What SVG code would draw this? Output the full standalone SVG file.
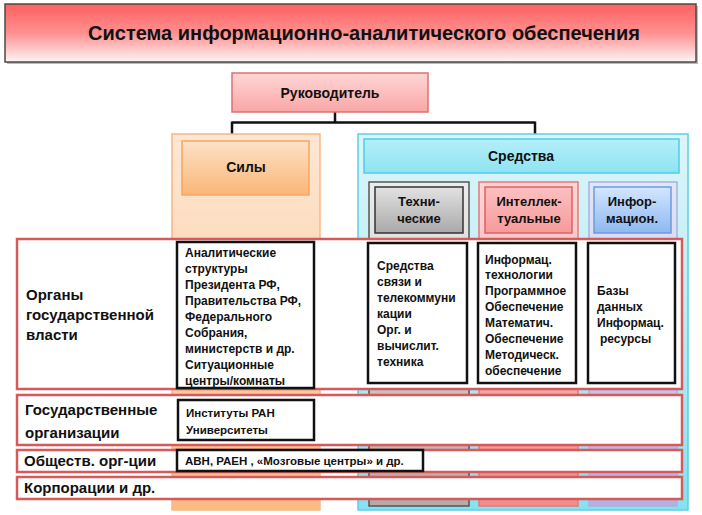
<svg xmlns="http://www.w3.org/2000/svg" width="702" height="515" viewBox="0 0 702 515">
<defs>
<linearGradient id="gTitle" x1="0" y1="0" x2="0" y2="1"><stop offset="0" stop-color="#ff6060"/><stop offset="0.5" stop-color="#ff9090"/><stop offset="1" stop-color="#fff4f4"/></linearGradient>
<linearGradient id="gBoss" x1="0" y1="0" x2="0" y2="1"><stop offset="0" stop-color="#ffd6d6"/><stop offset="1" stop-color="#f9a6a6"/></linearGradient>
<linearGradient id="gSilyCol" x1="0" y1="0" x2="0" y2="1"><stop offset="0" stop-color="#fde7d4"/><stop offset="0.5" stop-color="#fcd4ae"/><stop offset="1" stop-color="#fbbb82"/></linearGradient>
<linearGradient id="gSily" x1="0" y1="0" x2="0" y2="1"><stop offset="0" stop-color="#fde2c8"/><stop offset="1" stop-color="#f9b677"/></linearGradient>
<linearGradient id="gSredCol" x1="0" y1="0" x2="0" y2="1"><stop offset="0" stop-color="#dcf5fa"/><stop offset="0.5" stop-color="#b8edf6"/><stop offset="1" stop-color="#86e1f1"/></linearGradient>
<linearGradient id="gSred" x1="0" y1="0" x2="0" y2="1"><stop offset="0" stop-color="#b4eff9"/><stop offset="1" stop-color="#8fe3f3"/></linearGradient>
<linearGradient id="gTechCol" x1="0" y1="0" x2="0" y2="1"><stop offset="0" stop-color="#ececec"/><stop offset="1" stop-color="#b8a9a9"/></linearGradient>
<linearGradient id="gTech" x1="0" y1="0" x2="0" y2="1"><stop offset="0" stop-color="#e2e2e2"/><stop offset="1" stop-color="#a9a9a9"/></linearGradient>
<linearGradient id="gIntCol" x1="0" y1="0" x2="0" y2="1"><stop offset="0" stop-color="#fcd6d6"/><stop offset="1" stop-color="#f28c8c"/></linearGradient>
<linearGradient id="gInt" x1="0" y1="0" x2="0" y2="1"><stop offset="0" stop-color="#fcc0c0"/><stop offset="1" stop-color="#f79a9a"/></linearGradient>
<linearGradient id="gInfCol" x1="0" y1="0" x2="0" y2="1"><stop offset="0" stop-color="#e2e6f7"/><stop offset="1" stop-color="#b8aee0"/></linearGradient>
<linearGradient id="gInf" x1="0" y1="0" x2="0" y2="1"><stop offset="0" stop-color="#d4e6ff"/><stop offset="1" stop-color="#8db8f0"/></linearGradient>
</defs>
<style>
text{font-family:"Liberation Sans",Arial,sans-serif;font-weight:bold;fill:#111}
.title{font-size:20px}
.h{font-size:14px}
.hs{font-size:13px}
.lbl{font-size:15px}
.bt{font-size:12px}
.bs{font-size:11.5px}
.row{fill:#fff;stroke:#d65a5a;stroke-width:2.5}
.tb{fill:#fff;stroke:#111;stroke-width:2.5}
.conn{fill:none;stroke:#111;stroke-width:2.5}
</style>
<rect width="702" height="515" fill="#fff"/>

<g id="title">
<rect x="7" y="6" width="691" height="58" fill="#bbb"/>
<rect x="5" y="4" width="691" height="58" fill="url(#gTitle)" stroke="#4a4a4a" stroke-width="1.5"/>
<text class="title" x="364" y="40" text-anchor="middle">Система информационно-аналитического обеспечения</text>
</g>

<g id="connectors">
<path class="conn" d="M335 112 V122.5 M232 122.5 H535 M232 121.5 V134 M535 121.5 V137"/>
</g>

<g id="rukovoditel">
<rect x="232" y="73" width="196" height="39" fill="url(#gBoss)" stroke="#e07070" stroke-width="1.5"/>
<text class="h" x="330" y="98" text-anchor="middle">Руководитель</text>
</g>

<g id="sily-col">
<rect x="172" y="134" width="148" height="376" fill="url(#gSilyCol)" stroke="#f8b886" stroke-width="1.5"/>
</g>
<g id="sily">
<rect x="182" y="141" width="127" height="54" fill="url(#gSily)" stroke="#f5a660" stroke-width="1.5"/>
<text class="h" x="246" y="172" text-anchor="middle">Силы</text>
</g>

<g id="sredstva-col">
<rect x="358" y="134" width="330" height="376" fill="url(#gSredCol)" stroke="#5ccfe5" stroke-width="1.5"/>
</g>
<g id="sredstva">
<rect x="364" y="139" width="315" height="34" fill="url(#gSred)" stroke="#4fcde5" stroke-width="1.5"/>
<text class="h" x="521" y="161" text-anchor="middle">Средства</text>
</g>

<g id="tech-col"><rect x="369" y="182" width="100" height="324" fill="url(#gTechCol)" stroke="#555" stroke-width="1.5"/></g>
<g id="int-col"><rect x="479" y="182" width="99" height="324" fill="url(#gIntCol)" stroke="#e47a7a" stroke-width="1.5"/></g>
<g id="inf-col"><rect x="589" y="182" width="88" height="324" fill="url(#gInfCol)" stroke="#a9b2da" stroke-width="1.5"/></g>

<g id="tech">
<rect x="375" y="187" width="88" height="46" fill="url(#gTech)" stroke="#333" stroke-width="1.5"/>
<text class="hs" x="419" y="206" text-anchor="middle">Техни-</text>
<text class="hs" x="419" y="223" text-anchor="middle">ческие</text>
</g>
<g id="intellect">
<rect x="485" y="187" width="87" height="46" fill="url(#gInt)" stroke="#e06060" stroke-width="1.5"/>
<text class="hs" x="529" y="206" text-anchor="middle">Интеллек-</text>
<text class="hs" x="529" y="223" text-anchor="middle">туальные</text>
</g>
<g id="inform">
<rect x="594" y="187" width="77" height="46" fill="url(#gInf)" stroke="#6c9ade" stroke-width="1.5"/>
<text class="hs" x="632" y="206" text-anchor="middle">Инфор-</text>
<text class="hs" x="632" y="223" text-anchor="middle">мацион.</text>
</g>

<g id="row-organy">
<rect class="row" x="17" y="239" width="665" height="150"/>
<text class="lbl" x="26" y="300">Органы</text>
<text class="lbl" x="26" y="320">государственной</text>
<text class="lbl" x="26" y="340">власти</text>
</g>
<g id="box-sily-organy">
<rect class="tb" x="177" y="242" width="137" height="146"/>
<text class="bt" x="185" y="257">Аналитические</text>
<text class="bt" x="185" y="273">структуры</text>
<text class="bt" x="185" y="289">Президента РФ,</text>
<text class="bt" x="185" y="305">Правительства РФ,</text>
<text class="bt" x="185" y="321">Федерального</text>
<text class="bt" x="185" y="337">Собрания,</text>
<text class="bt" x="185" y="353">министерств и др.</text>
<text class="bt" x="185" y="369">Ситуационные</text>
<text class="bt" x="185" y="385">центры/комнаты</text>
</g>
<g id="box-tech-organy">
<rect class="tb" x="368" y="243" width="99" height="140"/>
<text class="bt" x="377" y="270">Средства</text>
<text class="bt" x="377" y="286">связи и</text>
<text class="bt" x="377" y="302">телекоммуни</text>
<text class="bt" x="377" y="318">кации</text>
<text class="bt" x="377" y="334">Орг. и</text>
<text class="bt" x="377" y="350">вычислит.</text>
<text class="bt" x="377" y="366">техника</text>
</g>
<g id="box-int-organy">
<rect class="tb" x="478" y="243" width="98" height="140"/>
<text class="bt" x="485" y="264">Информац.</text>
<text class="bt" x="485" y="279">технологии</text>
<text class="bt" x="485" y="295">Программное</text>
<text class="bt" x="485" y="311">Обеспечение</text>
<text class="bt" x="485" y="327">Математич.</text>
<text class="bt" x="485" y="343">Обеспечение</text>
<text class="bt" x="485" y="359">Методическ.</text>
<text class="bt" x="485" y="375">обеспечение</text>
</g>
<g id="box-inf-organy">
<rect class="tb" x="588" y="243" width="87" height="140"/>
<text class="bt" x="597" y="295">Базы</text>
<text class="bt" x="597" y="311">данных</text>
<text class="bt" x="597" y="327">Информац.</text>
<text class="bt" x="600" y="343">ресурсы</text>
</g>

<g id="row-gos-org">
<rect class="row" x="17" y="395" width="665" height="50"/>
<text class="lbl" x="25" y="415">Государственные</text>
<text class="lbl" x="25" y="438">организации</text>
</g>
<g id="box-gos-org">
<rect class="tb" x="178" y="400" width="136" height="40"/>
<text class="bs" x="186" y="417">Институты РАН</text>
<text class="bs" x="186" y="434">Университеты</text>
</g>

<g id="row-obsh">
<rect class="row" x="17" y="450" width="665" height="22"/>
<text class="lbl" x="24" y="466">Обществ. орг-ции</text>
</g>
<g id="box-obsh">
<rect class="tb" x="177" y="450" width="246" height="21"/>
<text class="bs" x="185" y="465">АВН, РАЕН , «Мозговые центры» и др.</text>
</g>

<g id="row-korp">
<rect class="row" x="17" y="477" width="665" height="22"/>
<text class="lbl" x="24" y="493">Корпорации и др.</text>
</g>
</svg>
